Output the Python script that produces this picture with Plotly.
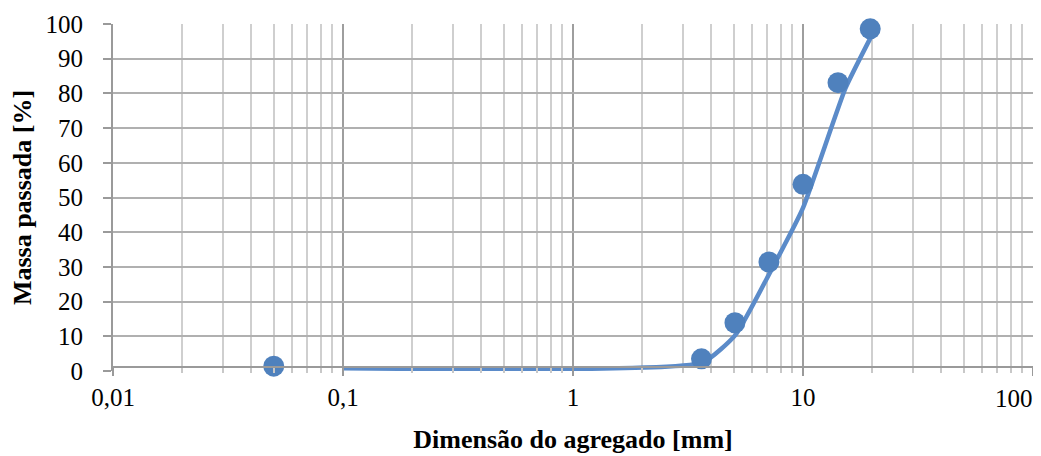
import math
import plotly.graph_objects as go

# Measured points (markers)
sizes_mm = [0.05, 3.62, 5.06, 7.11, 10.0, 14.2, 19.6]
passed_pct = [1.4, 3.5, 13.9, 31.4, 53.8, 83.1, 98.6]

# Curve (smoothed line)
curve_mm = [0.1, 3.65, 5.1, 7.2, 10.0, 15.3, 20.3]
curve_pct = [0.8, 2.4, 10.5, 28.5, 47.0, 81.5, 97.8]

x_major = [0.01, 0.1, 1, 10, 100]
x_labels = ["0,01", "0,1", "1", "10", "100"]
x_minor = [k * 10 ** d for d in (-2, -1, 0, 1) for k in range(2, 10)]
y_ticks = list(range(0, 101, 10))
y_grid = list(range(10, 101, 10))

font_family = "Liberation Serif, Times New Roman, serif"

# page body has an 8px margin; size figure so it fits the 1041x456 window
W, H = 1033, 448
M_L, M_R, M_T, M_B = 105, 8, 16, 85

fig = go.Figure()
fig.add_trace(go.Scatter(
    x=curve_mm, y=curve_pct, mode="lines",
    line=dict(color="#5B8BC9", width=4.5, shape="spline", smoothing=0.45),
    showlegend=False, cliponaxis=False))
fig.add_trace(go.Scatter(
    x=sizes_mm, y=passed_pct, mode="markers",
    marker=dict(color="#4F81BD", size=21, line=dict(width=0)),
    showlegend=False, cliponaxis=False))

plot_h = H - M_T - M_B
axis_pos = 4.5 / plot_h

# the last label is pulled inside the page (as the original does), via an annotation
tick_text = x_labels[:-1] + [""]

fig.update_layout(
    width=W, height=H,
    margin=dict(l=M_L, r=M_R, t=M_T, b=M_B, autoexpand=False),
    paper_bgcolor="white", plot_bgcolor="white",
    separators=",.",
    font=dict(family=font_family, size=25, color="#000000"),
    xaxis=dict(
        type="log", range=[-2, 2], automargin=False,
        anchor="free", position=axis_pos,
        tickvals=x_major, ticktext=tick_text,
        ticks="outside", ticklen=8, tickwidth=2, tickcolor="#9a9a9a",
        showline=True, linecolor="#9a9a9a", linewidth=2,
        showgrid=True, gridcolor="#9e9e9e", gridwidth=2,
        zeroline=False,
        ticklabelstandoff=0,
        tickfont=dict(size=25),
        minor=dict(tickvals=x_minor, ticks="outside", ticklen=5,
                   tickwidth=2, tickcolor="#c8c8c8",
                   showgrid=True, gridcolor="#cfcfcf", gridwidth=2),
        title=dict(text="<b>Dimensão do agregado [mm]</b>",
                   font=dict(size=26), standoff=19),
    ),
    yaxis=dict(
        range=[0, 100], tickvals=y_ticks, automargin=False,
        ticks="outside", ticklen=8, tickwidth=2, tickcolor="#9a9a9a",
        showline=True, linecolor="#9a9a9a", linewidth=2,
        showgrid=False, zeroline=False,
        ticklabelstandoff=15,
        tickfont=dict(size=25),
        title=dict(text="<b>Massa passada [%]</b>", font=dict(size=26), standoff=6),
    ),
    yaxis2=dict(
        overlaying="y", range=[0, 100], tickvals=y_grid, automargin=False,
        showticklabels=False, ticks="", showline=False, zeroline=False,
        showgrid=True, gridcolor="#b0b0b0", gridwidth=2,
    ),
    annotations=[dict(
        text=x_labels[-1], x=math.log10(x_major[-1]), xref="x",
        y=0, yref="paper", xanchor="right", yanchor="middle",
        xshift=2, yshift=-27, showarrow=False, font=dict(size=25),
    )],
)

# Invisible trace to ensure yaxis2 renders
fig.add_trace(go.Scatter(x=[sizes_mm[0]], y=[passed_pct[0]], yaxis="y2",
                         mode="markers", marker=dict(opacity=0),
                         showlegend=False, hoverinfo="skip"))

fig.write_html("out.html")
